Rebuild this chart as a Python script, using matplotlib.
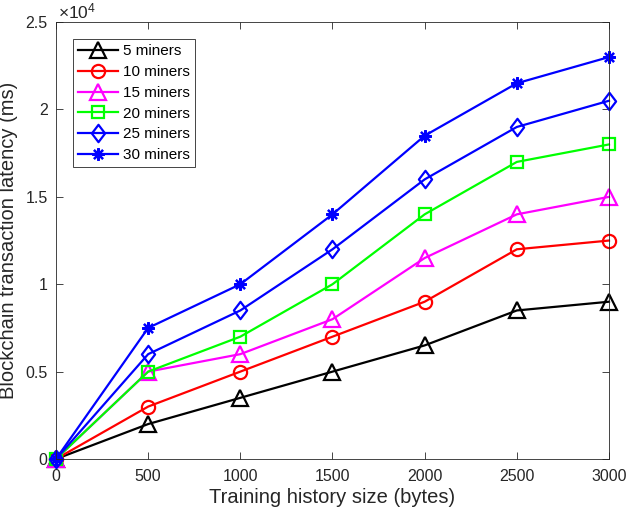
import matplotlib
matplotlib.use("Agg")
import matplotlib.pyplot as plt
from matplotlib.path import Path

plt.rcParams['font.family'] = ['Liberation Sans', 'DejaVu Sans']
plt.rcParams['mathtext.fontset'] = 'custom'
plt.rcParams['mathtext.rm'] = 'Liberation Sans'

x = [0, 500, 1000, 1500, 2000, 2500, 3000]
m5 = [0, 2000, 3500, 5000, 6500, 8500, 9000]
m10 = [0, 3000, 5000, 7000, 9000, 12000, 12500]
m15 = [0, 5000, 6000, 8000, 11500, 14000, 15000]
m20 = [0, 5000, 7000, 10000, 14000, 17000, 18000]
m25 = [0, 6000, 8500, 12000, 16000, 19000, 20500]
m30 = [0, 7500, 10000, 14000, 18500, 21500, 23000]
labels = ['5 miners', '10 miners', '15 miners', '20 miners', '25 miners', '30 miners']
series = [m5, m10, m15, m20, m25, m30]
colors = ['black', 'red', '#ff00ff', '#00ff00', '#0000ff', '#0000ff']

diamond = Path([(0, 1), (0.76, 0), (0, -1), (-0.76, 0), (0, 1)],
               [Path.MOVETO, Path.LINETO, Path.LINETO, Path.LINETO, Path.CLOSEPOLY])
markers = ['^', 'o', '^', 's', diamond, (8, 2, 0)]
msizes = [11, 9.5, 11, 8, 12.5, 9]

fig = plt.figure(figsize=(6.27, 5.14), dpi=100)
ax = fig.add_axes([0.0893, 0.107, 0.882, 0.850])
for y, c, m, ms, lab in zip(series, colors, markers, msizes, labels):
    ax.plot(x, y, color=c, lw=1.6, marker=m, ms=ms, mfc='none', mec=c, mew=1.6,
            label=lab, clip_on=False)

ax.set_xlim(0, 3000)
ax.set_ylim(0, 25000)
ax.set_xticks(x)
ax.set_yticks([0, 5000, 10000, 15000, 20000, 25000])
ax.set_yticklabels(['0', '0.5', '1', '1.5', '2', '2.5'])
ax.tick_params(direction='in', labelsize=11.5, top=True, right=True, length=5, width=0.6,
               colors='#262626')
ax.tick_params(axis='x', pad=7)
ax.tick_params(axis='y', pad=6)
for s in ax.spines.values():
    s.set_linewidth(0.6)
    s.set_color('#262626')
ax.text(0.003, 1.002, r'$\mathrm{\times 10^{4}}$', transform=ax.transAxes, fontsize=12.5,
        color='#262626', va='bottom', ha='left')
ax.set_xlabel('Training history size (bytes)', fontsize=14.5, color='#262626', labelpad=3)
ax.set_ylabel('Blockchain transaction latency (ms)', fontsize=14.5, color='#262626', labelpad=5)
leg = ax.legend(loc='upper left', bbox_to_anchor=(0.031, 0.961), borderaxespad=0, fontsize=11,
                frameon=True, fancybox=False, edgecolor='#262626', handlelength=2.6,
                handletextpad=0.3, borderpad=0.35, labelspacing=0.44, framealpha=1)
leg.get_frame().set_linewidth(0.6)
fig.savefig('out.png', dpi=100)
